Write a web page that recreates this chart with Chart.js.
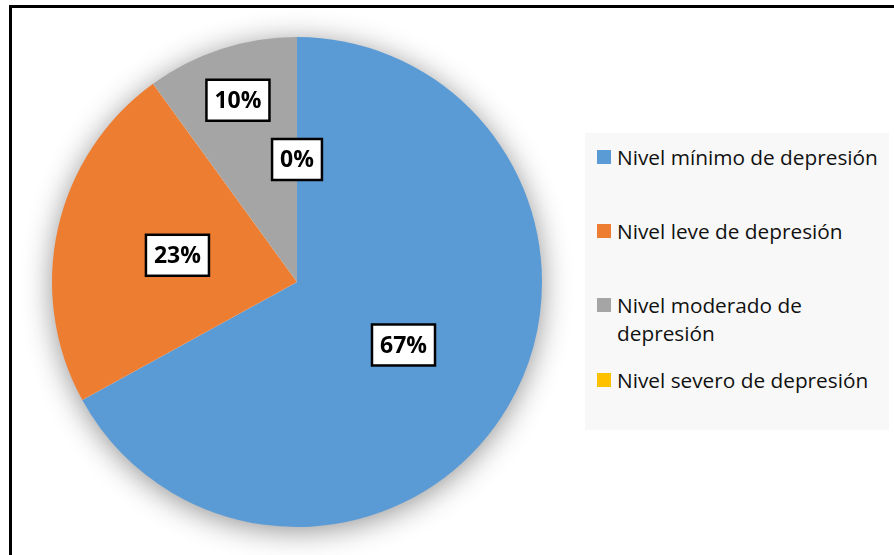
<!DOCTYPE html>
<html>
<head>
<meta charset="utf-8">
<script src="https://cdn.jsdelivr.net/npm/chart.js@4.4.1/dist/chart.umd.min.js"></script>
<style>
  html, body { margin: 0; padding: 0; background: #fff; overflow: hidden; }
  #wrap { position: relative; width: 894px; height: 555px; }
  #frame { position: absolute; left: 9px; top: 5px; width: 920px; height: 620px; border: 3px solid #000; box-sizing: border-box; }
  #chart { position: absolute; left: 0; top: 0; }
  #legend { position: absolute; left: 585px; top: 133px; width: 304px; height: 297px; background: #f8f8f8;
            font-family: 'Open Sans', sans-serif; font-size: 20.8px; color: #111; }
  .item { position: absolute; left: 0; right: 0; }
  .swatch { position: absolute; left: 12px; top: 7px; width: 14px; height: 14px; }
  .txt { position: absolute; left: 32px; top: 0; line-height: 28px; white-space: nowrap; }
</style>
</head>
<body>
<div id="wrap">
  <div id="frame"></div>
  <canvas id="chart" width="894" height="555"></canvas>
  <div id="legend"></div>
</div>
<script>
//DATA
const categories = [
  'Nivel mínimo de depresión',
  'Nivel leve de depresión',
  'Nivel moderado de\ndepresión',
  'Nivel severo de depresión'
];
const percentages = [67, 23, 10, 0];
const colors = ['#5B9BD5', '#ED7D31', '#A5A5A5', '#FFC000'];

//LEGEND (html, item centres)
const legendTops = [10, 84, 158, 233];
const legend = document.getElementById('legend');
categories.forEach((c, i) => {
  const item = document.createElement('div');
  item.className = 'item';
  item.style.top = legendTops[i] + 'px';
  item.innerHTML = `<div class="swatch" style="background:${colors[i]}"></div>
    <div class="txt">${c.split('\n').join('<br>')}</div>`;
  legend.appendChild(item);
});

//PLUGINS
const pieShadow = {
  id: 'pieShadow',
  beforeDatasetsDraw(chart) {
    const arc = chart.getDatasetMeta(0).data[0];
    if (!arc) return;
    const ctx = chart.ctx;
    ctx.save();
    ctx.shadowColor = 'rgba(0,0,0,0.45)';
    ctx.shadowBlur = 30;
    ctx.shadowOffsetY = 4;
    ctx.beginPath();
    ctx.arc(arc.x, arc.y, arc.outerRadius - 1, 0, Math.PI * 2);
    ctx.fillStyle = '#fff';
    ctx.fill();
    ctx.restore();
  }
};

// Excel-like boxed data labels
const labelRadius = [0.505, 0.5, 0.78, 0.5];
const boxLabels = {
  id: 'boxLabels',
  afterDatasetsDraw(chart) {
    const ctx = chart.ctx;
    const meta = chart.getDatasetMeta(0);
    ctx.save();
    ctx.font = "bold 23px 'Open Sans', sans-serif";
    ctx.textAlign = 'center';
    ctx.textBaseline = 'middle';
    meta.data.forEach((arc, i) => {
      const mid = (arc.startAngle + arc.endAngle) / 2;
      const r = arc.outerRadius * labelRadius[i];
      const x = arc.x + Math.cos(mid) * r;
      const y = arc.y + Math.sin(mid) * r;
      const text = percentages[i] + '%';
      const w = ctx.measureText(text).width + 16;
      const h = 41;
      ctx.fillStyle = '#fff';
      ctx.fillRect(x - w / 2, y - h / 2, w, h);
      ctx.lineWidth = 2.5;
      ctx.strokeStyle = '#000';
      ctx.strokeRect(x - w / 2, y - h / 2, w, h);
      ctx.fillStyle = '#000';
      ctx.fillText(text, x, y + 1);
    });
    ctx.restore();
  }
};

//CHART
new Chart(document.getElementById('chart'), {
  type: 'pie',
  data: {
    labels: categories,
    datasets: [{
      data: percentages,
      backgroundColor: colors,
      borderWidth: 0
    }]
  },
  options: {
    responsive: false,
    animation: false,
    layout: { padding: { left: 0, right: 300, top: 37, bottom: 28 } },
    plugins: {
      legend: { display: false },
      tooltip: { enabled: false }
    }
  },
  plugins: [pieShadow, boxLabels]
});
</script>
</body>
</html>
